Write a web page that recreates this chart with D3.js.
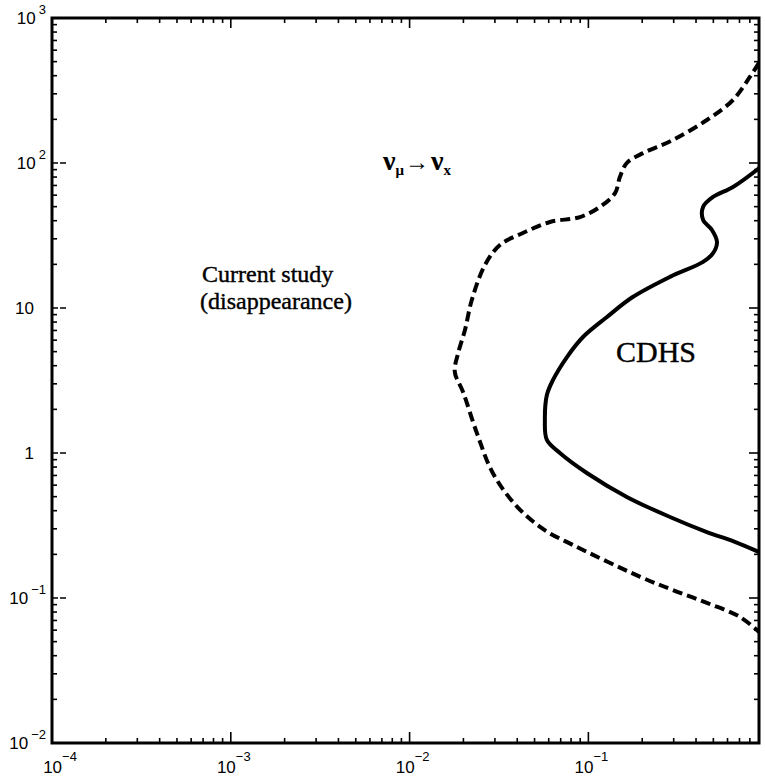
<!DOCTYPE html>
<html>
<head>
<meta charset="utf-8">
<script src="https://cdn.jsdelivr.net/npm/d3@7"></script>
<style>
  html, body { margin: 0; padding: 0; background: #fff; }
  svg { display: block; }
</style>
</head>
<body>
<svg id="chart" width="765" height="780"></svg>
<script>
// Exclusion contours in the (sin²2θ, Δm²) plane, log–log axes.
const xDecades = [1e-4, 1e-3, 1e-2, 1e-1];
const xTickExp = ["−4", "−3", "−2", "−1"];
const yDecades = [1e-2, 1e-1, 1, 10, 1e2, 1e3];
const yTickBase = ["10", "10", "1", "10", "10", "10"];
const yTickExp = ["−2", "−1", "", "", "2", "3"];

// Current study (disappearance) – dashed contour
const studySin2 = [0.90, 0.80, 0.644, 0.460, 0.297, 0.202, 0.164, 0.150, 0.141, 0.116, 0.0897, 0.061, 0.043, 0.032, 0.0264, 0.0223, 0.0204, 0.0187, 0.0179, 0.0199, 0.0238, 0.0292, 0.040, 0.057, 0.082, 0.195, 0.297, 0.460, 0.705, 0.90];
const studyDm2 = [490, 392, 272, 198, 144, 117, 100, 80, 62, 49.8, 42.4, 39.2, 32.9, 27.2, 19.8, 11.4, 7.05, 4.90, 3.62, 2.64, 1.37, 0.728, 0.425, 0.294, 0.232, 0.140, 0.1135, 0.0925, 0.074, 0.0583];

// CDHS – solid contour
const cdhsSin2 = [0.92, 0.644, 0.498, 0.438, 0.438, 0.491, 0.524, 0.498, 0.438, 0.286, 0.177, 0.127, 0.0933, 0.0759, 0.0634, 0.0586, 0.0571, 0.0586, 0.0693, 0.098, 0.164, 0.286, 0.460, 0.644, 0.92];
const cdhsDm2 = [94, 68.3, 58.3, 49.8, 40.5, 34.5, 28.5, 23.9, 20.8, 16.4, 11.9, 8.67, 6.31, 4.59, 3.19, 2.51, 1.69, 1.23, 1.0, 0.728, 0.498, 0.362, 0.285, 0.247, 0.205];

const svg = d3.select("#chart");
const plotL = 52, plotR = 759, plotT = 18, plotB = 743;

const x = d3.scaleLog().domain([1e-4, 0.9]).range([plotL, plotR]);
const y = d3.scaleLog().domain([1e-2, 1e3]).range([plotB, plotT]);

svg.append("defs").append("clipPath").attr("id", "plotClip")
  .append("rect").attr("x", plotL).attr("y", plotT)
  .attr("width", plotR - plotL).attr("height", plotB - plotT);

// minor ticks: 2..9 in every decade inside the domain
function minorTicks(scale) {
  const [a, b] = scale.domain();
  const out = [];
  for (let e = Math.floor(Math.log10(a)); e <= Math.ceil(Math.log10(b)); e++) {
    for (let k = 2; k <= 9; k++) {
      const v = k * Math.pow(10, e);
      if (v > a && v < b) out.push(v);
    }
  }
  return out;
}

const tickG = svg.append("g").attr("stroke", "#000").attr("stroke-width", 1.6);
const xMinor = minorTicks(x), yMinor = minorTicks(y);

// bottom and top ticks
xMinor.forEach(v => {
  tickG.append("line").attr("x1", x(v)).attr("x2", x(v)).attr("y1", plotB).attr("y2", plotB - 5);
  tickG.append("line").attr("x1", x(v)).attr("x2", x(v)).attr("y1", plotT).attr("y2", plotT + 5);
});
xDecades.forEach(v => {
  tickG.append("line").attr("x1", x(v)).attr("x2", x(v)).attr("y1", plotB).attr("y2", plotB - 11);
  tickG.append("line").attr("x1", x(v)).attr("x2", x(v)).attr("y1", plotT).attr("y2", plotT + 10);
});
// left and right ticks
yMinor.forEach(v => {
  tickG.append("line").attr("y1", y(v)).attr("y2", y(v)).attr("x1", plotL).attr("x2", plotL + 5);
  tickG.append("line").attr("y1", y(v)).attr("y2", y(v)).attr("x1", plotR).attr("x2", plotR - 5);
});
yDecades.forEach(v => {
  tickG.append("line").attr("y1", y(v)).attr("y2", y(v)).attr("x1", plotL).attr("x2", plotL + 14)
    .attr("stroke-dasharray", "6,2");
  tickG.append("line").attr("y1", y(v)).attr("y2", y(v)).attr("x1", plotR).attr("x2", plotR - 10);
});

// frame
svg.append("rect").attr("x", plotL).attr("y", plotT)
  .attr("width", plotR - plotL).attr("height", plotB - plotT)
  .attr("fill", "none").attr("stroke", "#000").attr("stroke-width", 3);

// tick labels
const labelFont = "'Liberation Sans', Arial, sans-serif";
xDecades.forEach((v, i) => {
  const t = svg.append("text")
    .attr("x", x(v) + (i === 0 ? 8 : 3)).attr("y", 773)
    .attr("text-anchor", "middle")
    .attr("font-family", labelFont).attr("font-size", 17).attr("fill", "#000");
  t.append("tspan").text("10");
  t.append("tspan").attr("dy", -12).attr("font-size", 13).text(xTickExp[i]);
});
yDecades.forEach((v, i) => {
  const hasExp = yTickExp[i] !== "";
  const t = svg.append("text")
    .attr("x", hasExp ? 46 : 34).attr("y", y(v) + 6)
    .attr("text-anchor", "end")
    .attr("font-family", labelFont).attr("font-size", 17).attr("fill", "#000");
  t.append("tspan").text(yTickBase[i]);
  if (hasExp) {
    t.append("tspan").attr("dx", 3).attr("dy", -10).attr("font-size", 13).text(yTickExp[i]);
  }
});

// contours
const line = d3.line()
  .x(d => x(d[0])).y(d => y(d[1]))
  .curve(d3.curveCatmullRom.alpha(0.5));

const plot = svg.append("g").attr("clip-path", "url(#plotClip)");
plot.append("path")
  .datum(studySin2.map((s, i) => [s, studyDm2[i]]))
  .attr("d", line).attr("fill", "none").attr("stroke", "#000")
  .attr("stroke-width", 4).attr("stroke-dasharray", "10,5");
plot.append("path")
  .datum(cdhsSin2.map((s, i) => [s, cdhsDm2[i]]))
  .attr("d", line).attr("fill", "none").attr("stroke", "#000")
  .attr("stroke-width", 4).attr("stroke-linejoin", "round");

// annotations
const serif = "'Liberation Serif', 'Times New Roman', serif";
const nu = svg.append("text").attr("x", 383).attr("y", 170)
  .attr("font-family", serif).attr("font-weight", "bold").attr("font-size", 28).attr("fill", "#000");
nu.append("tspan").text("ν");
nu.append("tspan").attr("dy", 5).attr("font-size", 15).text("μ");
nu.append("tspan").attr("dy", -5).attr("dx", 1).attr("font-size", 24).text("→");
nu.append("tspan").attr("dx", 2).text("ν");
nu.append("tspan").attr("dy", 5).attr("font-size", 15).text("x");

const study = svg.append("g")
  .attr("font-family", serif).attr("font-size", 24).attr("fill", "#000")
  .attr("stroke", "#000").attr("stroke-width", 0.4);
study.append("text").attr("x", 202).attr("y", 282).text("Current study");
study.append("text").attr("x", 200).attr("y", 309).text("(disappearance)");

svg.append("text").attr("x", 616).attr("y", 362)
  .attr("font-family", serif).attr("font-size", 30).attr("fill", "#000")
  .attr("stroke", "#000").attr("stroke-width", 0.4)
  .text("CDHS");
</script>
</body>
</html>
